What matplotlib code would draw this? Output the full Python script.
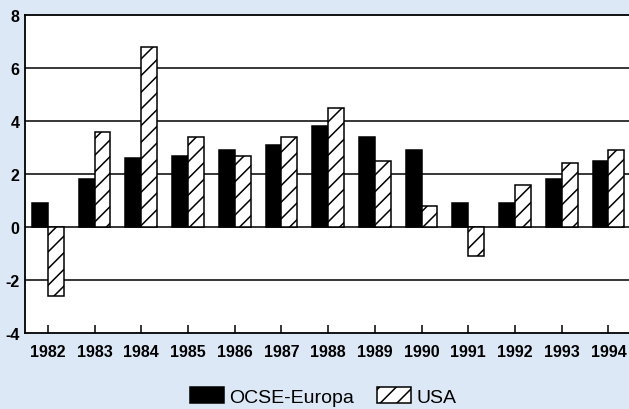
import numpy as np
import matplotlib
matplotlib.use('Agg')
import matplotlib.pyplot as plt

years = ['1982','1983','1984','1985','1986','1987','1988','1989','1990','1991','1992','1993','1994']
europa = [0.9, 1.8, 2.6, 2.7, 2.9, 3.1, 3.8, 3.4, 2.9, 0.9, 0.9, 1.8, 2.5]
usa = [-2.6, 3.6, 6.8, 3.4, 2.7, 3.4, 4.5, 2.5, 0.8, -1.1, 1.6, 2.4, 2.9]

plt.rcParams['font.family'] = ['Liberation Sans', 'DejaVu Sans']
plt.rcParams['hatch.linewidth'] = 1.1

bg = '#dce8f6'
fig = plt.figure(figsize=(6.29, 4.10), dpi=100, facecolor=bg)
ax = fig.add_axes([0.0397, 0.185, 0.9603, 0.776])
ax.set_facecolor('white')

x = np.arange(len(years))
w = 0.34
ax.bar(x - w/2, europa, w, color='black', edgecolor='black', linewidth=1.1, label='OCSE-Europa', zorder=3)
ax.bar(x + w/2, usa, w, color='white', edgecolor='black', linewidth=1.1, hatch='//', label='USA', zorder=3)

for yv in [-2, 0, 2, 4, 6]:
    ax.axhline(yv, color='black', lw=1.1, zorder=1)

ax.set_ylim(-4, 8)
ax.set_xlim(-0.49, 12.44)
ax.set_yticks([-4, -2, 0, 2, 4, 6, 8])
ax.set_yticklabels(['-4', '-2', '0', '2', '4', '6', '8'], fontsize=11.5, fontweight='bold')
ax.set_xticks(x)
ax.set_xticklabels(years, fontsize=11.5, fontweight='bold')
ax.tick_params(axis='y', length=0, pad=4)
ax.tick_params(axis='x', direction='in', length=6, width=1.1, pad=8)

ax.spines['right'].set_visible(False)
for s in ['left', 'top', 'bottom']:
    ax.spines[s].set_linewidth(1.3)

fig.legend(loc='center', bbox_to_anchor=(0.514, 0.03), ncol=2, frameon=False,
           fontsize=14, handlelength=1.75, handleheight=0.85, handletextpad=0.25,
           columnspacing=1.2)

fig.savefig('out.png', dpi=100, facecolor=bg)
